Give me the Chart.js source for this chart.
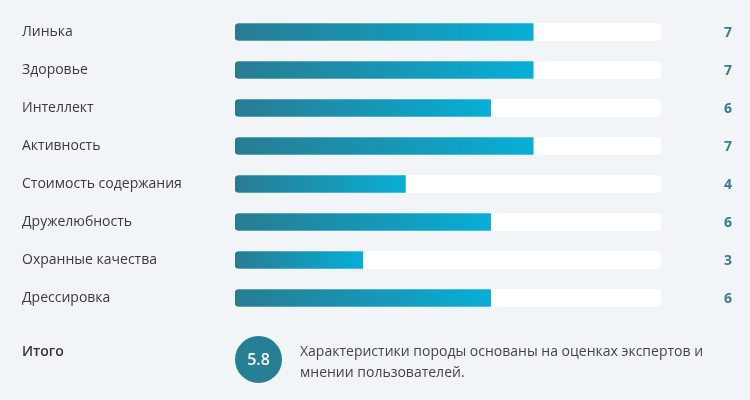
<!DOCTYPE html>
<html lang="ru">
<head>
<meta charset="utf-8">
<title>Характеристики породы</title>
<script src="https://cdn.jsdelivr.net/npm/chart.js@4.4.1/dist/chart.umd.min.js"></script>
<style>
    html, body { margin: 0; padding: 0; background: #f1f5f7; }
    body { width: 750px; height: 400px; position: relative; overflow: hidden; font-family: "Open Sans", sans-serif; }
    #wrap { position: absolute; left: 0; top: 0; width: 750px; height: 400px; }
    .total-label { position: absolute; left: 22px; top: 341px; font-size: 14px; font-weight: 600; color: #333; }
    .score { position: absolute; left: 235px; top: 336px; width: 47px; height: 47px; border-radius: 50%; background: #267f95;
        color: #fff; font-size: 16px; font-weight: 600; line-height: 47px; text-align: center; }
    .note { position: absolute; left: 300px; top: 340px; width: 430px; font-size: 14px; line-height: 21px; color: #444; }
</style>
</head>
<body>
<div id="wrap"><canvas id="traitsChart" width="750" height="400"></canvas></div>
<div class="total-label">Итого</div>
<div class="score" id="score"></div>
<div class="note">Характеристики породы основаны на оценках экспертов и мнении пользователей.</div>

<script>
const traits = ["Линька", "Здоровье", "Интеллект", "Активность", "Стоимость содержания", "Дружелюбность", "Охранные качества", "Дрессировка"];
const scores = [7, 7, 6, 7, 4, 6, 3, 6];
const maxScore = 10;
const totalScore = "5.8";

document.getElementById('score').textContent = totalScore;

// gradient runs from the left edge to the end of each bar
function barGradient(context) {
    const chart = context.chart;
    const area = chart.chartArea;
    if (!area) return '#1598b8';
    const end = chart.scales.x.getPixelForValue(context.raw);
    const g = chart.ctx.createLinearGradient(area.left, 0, end, 0);
    g.addColorStop(0, '#287c92');
    g.addColorStop(1, '#08aed6');
    return g;
}

// score numbers on the right
const valueLabels = {
    id: 'valueLabels',
    afterDatasetsDraw(chart) {
        const ctx = chart.ctx;
        const meta = chart.getDatasetMeta(0);
        ctx.save();
        ctx.font = 'bold 14px "Open Sans"';
        ctx.fillStyle = '#3b7b8b';
        ctx.textAlign = 'center';
        ctx.textBaseline = 'middle';
        meta.data.forEach((bar, i) => {
            ctx.fillText(scores[i], 728, bar.y + 1);
        });
        ctx.restore();
    }
};

const ctx = document.getElementById('traitsChart').getContext('2d');
const traitsChart = new Chart(ctx, {
    type: 'bar',
    data: {
        labels: traits,
        datasets: [{
            data: scores,
            backgroundColor: barGradient,
            borderRadius: { topLeft: 4, bottomLeft: 4, topRight: 0, bottomRight: 0 },
            borderSkipped: false,
            barThickness: 17,
            grouped: false,
            order: 1
        }, {
            data: traits.map(() => maxScore),
            backgroundColor: '#ffffff',
            borderRadius: 4,
            borderSkipped: false,
            barThickness: 17,
            grouped: false,
            order: 2
        }]
    },
    options: {
        indexAxis: 'y',
        responsive: false,
        animation: false,
        layout: { padding: { left: 22, right: 89, top: 13, bottom: 83 } },
        scales: {
            x: { display: false, min: 0, max: maxScore },
            y: {
                grid: { display: false },
                border: { display: false },
                afterFit: function (axis) { axis.width = 213; },
                ticks: {
                    crossAlign: 'far',
                    padding: 0,
                    color: '#3a3a3a',
                    font: { family: 'Open Sans', size: 14 }
                }
            }
        },
        plugins: {
            legend: { display: false },
            tooltip: { enabled: false }
        }
    },
    plugins: [valueLabels]
});
</script>
</body>
</html>
